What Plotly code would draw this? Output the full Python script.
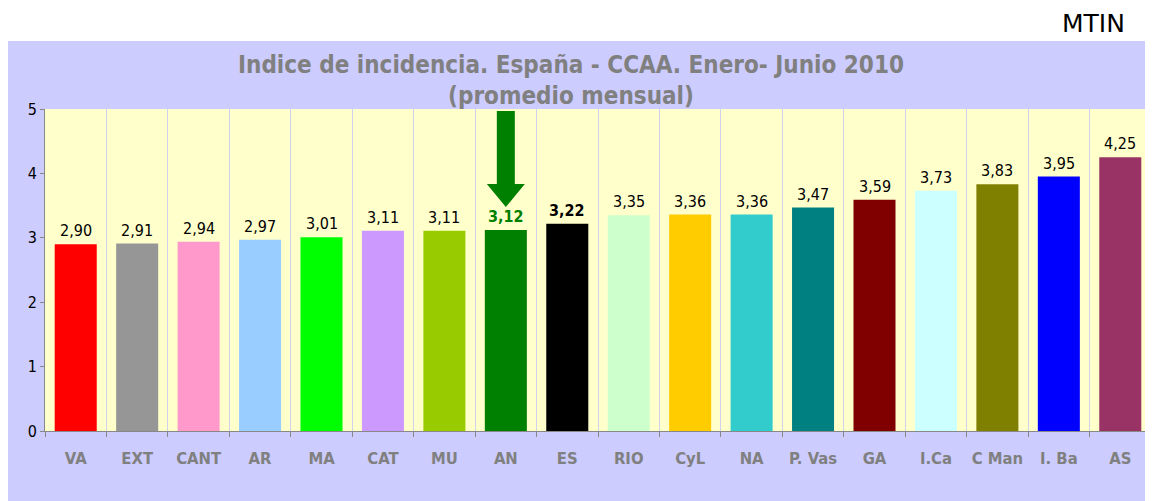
import plotly.graph_objects as go

categories = ["VA", "EXT", "CANT", "AR", "MA", "CAT", "MU", "AN", "ES", "RIO",
              "CyL", "NA", "P. Vas", "GA", "I.Ca", "C Man", "I. Ba", "AS"]
values = [2.90, 2.91, 2.94, 2.97, 3.01, 3.11, 3.11, 3.12, 3.22, 3.35,
          3.36, 3.36, 3.47, 3.59, 3.73, 3.83, 3.95, 4.25]
bar_colors = ["#ff0000", "#969696", "#ff99cc", "#99ccff", "#00ff00", "#cc99ff",
              "#99cc00", "#008000", "#000000", "#ccffcc", "#ffcc00", "#33cccc",
              "#008080", "#800000", "#ccffff", "#808000", "#0000ff", "#993366"]
highlight = "AN"
national = "ES"
y_ticks = [0, 1, 2, 3, 4, 5]

# page has an 8px body margin; figure is sized to fit the window
OFF = 8
W, H = 1153 - OFF, 501 - OFF
ml, mr, mt, mb = 45 - OFF, 2, 109 - OFF, 70
pw, ph = W - ml - mr, H - mt - mb


def px2paper_x(px):
    return (px - OFF - ml) / pw


def px2paper_y(py):
    return (H - mb - (py - OFF)) / ph


fig = go.Figure()
fig.add_trace(go.Bar(
    x=categories, y=values, marker=dict(color=bar_colors, line=dict(width=0)),
    width=0.684, showlegend=False, hoverinfo="x+y",
))

# value labels
for c, v in zip(categories, values):
    txt = f"{v:.2f}".replace(".", ",")
    color = "#000000"
    if c == highlight:
        txt = f"<b>{txt}</b>"
        color = "#008000"
    elif c == national:
        txt = f"<b>{txt}</b>"
    fig.add_annotation(x=c, y=v, text=txt, showarrow=False, yanchor="bottom",
                       yshift=2, font=dict(family="DejaVu Sans Condensed", size=16, color=color))

# background boxes
shapes = [
    dict(type="rect", xref="paper", yref="paper", layer="below",
         x0=px2paper_x(8), x1=px2paper_x(1160), y0=px2paper_y(510), y1=px2paper_y(41),
         fillcolor="#ccccff", line=dict(width=0)),
    dict(type="rect", xref="paper", yref="paper", layer="below",
         x0=0, x1=1, y0=0, y1=1, fillcolor="#ffffcc", line=dict(width=0)),
]

# down arrow over highlighted bar
i = categories.index(highlight)
v = values[i]
upp = 5 / ph                 # y data units per pixel
xpp = len(categories) / pw   # category units per pixel
sw, hw = 9 * xpp, 19 * xpp
tip = v + 23 * upp
head = tip + 23 * upp
top = 5 - 2 * upp
path = (f"M {i - sw} {top} L {i + sw} {top} L {i + sw} {head} L {i + hw} {head} "
        f"L {i} {tip} L {i - hw} {head} L {i - sw} {head} Z")
shapes.append(dict(type="path", xref="x", yref="y", path=path,
                   fillcolor="#008000", line=dict(width=0), layer="above"))

fig.update_layout(shapes=shapes)

# title
fig.add_annotation(xref="paper", yref="paper", x=px2paper_x(571), y=px2paper_y(49),
                   xanchor="center", yanchor="top", showarrow=False,
                   text="Indice de incidencia. España - CCAA. Enero- Junio 2010<br>(promedio mensual)",
                   font=dict(family="DejaVu Sans Condensed", size=24, color="#808080", weight="bold"))

# MTIN
fig.add_annotation(xref="paper", yref="paper", x=px2paper_x(1126), y=px2paper_y(OFF),
                   xanchor="right", yanchor="top", showarrow=False, text="MTIN",
                   borderpad=0,
                   font=dict(family="DejaVu Sans", size=25, color="#000000"))

fig.update_layout(
    width=W, height=H,
    margin=dict(l=ml, r=mr, t=mt, b=mb),
    paper_bgcolor="white", plot_bgcolor="rgba(0,0,0,0)",
    xaxis=dict(type="category", tickson="boundaries", showgrid=True, gridcolor="#d0d0f0",
               gridwidth=1, ticks="outside", ticklen=5, tickcolor="#888888",
               showline=True, linecolor="#888888", linewidth=1,
               ticklabelstandoff=12,
               tickfont=dict(family="DejaVu Sans Condensed", size=16.5, color="#808080", weight="bold"),
               range=[-0.5, len(categories) - 0.5]),
    yaxis=dict(range=[0, 5], tickvals=y_ticks, showgrid=False, zeroline=False,
               ticks="outside", ticklen=4, tickcolor="#888888",
               showline=True, linecolor="#888888", linewidth=1,
               tickfont=dict(family="DejaVu Sans Condensed", size=16, color="#000000")),
)

fig.write_html("out.html")
